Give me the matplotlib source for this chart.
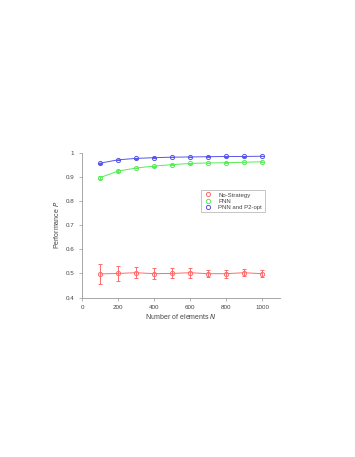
import matplotlib.pyplot as plt
import numpy as np

N = [100, 200, 300, 400, 500, 600, 700, 800, 900, 1000]
no_strategy = [0.498, 0.500, 0.503, 0.499, 0.500, 0.503, 0.499, 0.499, 0.503, 0.499]
no_strategy_err = [0.043, 0.030, 0.024, 0.024, 0.021, 0.020, 0.014, 0.017, 0.014, 0.014]
pnn = [0.898, 0.925, 0.938, 0.946, 0.952, 0.957, 0.959, 0.960, 0.962, 0.964]
pnn_err = [0.007, 0.003, 0.002, 0.002, 0.002, 0.001, 0.001, 0.001, 0.001, 0.001]
pnn_p2 = [0.958, 0.972, 0.978, 0.981, 0.983, 0.984, 0.985, 0.986, 0.986, 0.987]
pnn_p2_err = [0.002, 0.001, 0.001, 0.001, 0.001, 0.001, 0.001, 0.001, 0.001, 0.001]

plt.rcParams['font.family'] = ['Liberation Sans', 'DejaVu Sans']
fig = plt.figure(figsize=(3.55, 4.57), dpi=100)
ax = fig.add_axes([0.231, 0.349, 0.558, 0.316])

red = '#ff6b6b'
green = '#55ee55'
blue = '#5555ee'
for y, e, c, lab in [(no_strategy, no_strategy_err, red, 'No-Strategy'),
                     (pnn, pnn_err, green, 'PNN'),
                     (pnn_p2, pnn_p2_err, blue, 'PNN and P2-opt')]:
    ax.errorbar(N, y, yerr=e, color=c, lw=0.7, elinewidth=0.7, capsize=1.5,
                marker='o', ms=3, mfc='none', mew=0.7)
    ax.plot([], [], ls='none', marker='o', ms=3, mfc='none', mew=0.7, color=c, label=lab)

ax.set_xlim(0, 1100)
ax.set_ylim(0.4, 1.0)
ax.set_xticks([0, 200, 400, 600, 800, 1000])
ax.set_yticks([0.4, 0.5, 0.6, 0.7, 0.8, 0.9, 1])
ax.set_yticklabels(['0.4', '0.5', '0.6', '0.7', '0.8', '0.9', '1'])
for s in ['top', 'right']:
    ax.spines[s].set_visible(False)
for s in ['left', 'bottom']:
    ax.spines[s].set_color('#999999')
    ax.spines[s].set_linewidth(0.6)
ax.tick_params(labelsize=4.5, colors='#999999', labelcolor='#444444', width=0.5, length=2)
ax.set_xlabel('Number of elements $N$', fontsize=5, color='#444444', labelpad=1)
ax.set_ylabel('Performance $P$', fontsize=5, color='#444444', labelpad=3)
leg = ax.legend(loc='upper left', bbox_to_anchor=(0.586, 0.765), fontsize=4.3,
                frameon=True, fancybox=False, edgecolor='#999999', handletextpad=1.0,
                borderpad=0.4, labelspacing=0.15, handlelength=1.5)
leg.get_frame().set_linewidth(0.5)
for t in leg.get_texts():
    t.set_color('#444444')

plt.savefig('out.png', dpi=100)
